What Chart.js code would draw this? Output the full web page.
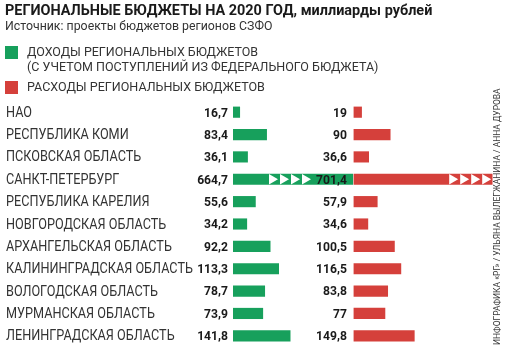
<!DOCTYPE html>
<html>
<head>
<meta charset="utf-8">
<script src="https://cdn.jsdelivr.net/npm/chart.js@4.4.0/dist/chart.umd.min.js"></script>
<style>
html, body { margin: 0; padding: 0; background: #fff; }
#wrap { position: relative; width: 507px; height: 350px; overflow: hidden; font-family: Roboto, sans-serif; color: #2b2b2b; }
canvas { position: absolute; left: 0; top: 0; }
.t { position: absolute; white-space: nowrap; line-height: 20px; height: 20px; transform-origin: 0 50%; }
.sq { position: absolute; width: 13px; height: 13px; }
</style>
</head>
<body>
<div id="wrap">
  <canvas id="chart" width="507" height="350"></canvas>
  <div class="t" data-w="427" style="left:5px;top:0px;font-size:15px;font-weight:bold;color:#1a1a1a">РЕГИОНАЛЬНЫЕ БЮДЖЕТЫ НА 2020 ГОД, миллиарды рублей</div>
  <div class="t" data-w="267" style="left:5px;top:16px;font-size:12px;color:#333">Источник: проекты бюджетов регионов СЗФО</div>
  <div class="sq" style="left:5px;top:46px;background:#17a05c"></div>
  <div class="t" data-w="231" style="left:27px;top:42px;font-size:13px;color:#333">ДОХОДЫ РЕГИОНАЛЬНЫХ БЮДЖЕТОВ</div>
  <div class="t" data-w="351" style="left:27px;top:57px;font-size:13px;color:#333">(С УЧЕТОМ ПОСТУПЛЕНИЙ ИЗ ФЕДЕРАЛЬНОГО БЮДЖЕТА)</div>
  <div class="sq" style="left:5px;top:81px;background:#d5403b"></div>
  <div class="t" data-w="238" style="left:27px;top:77px;font-size:13px;color:#333">РАСХОДЫ РЕГИОНАЛЬНЫХ БЮДЖЕТОВ</div>
  <div class="t" id="credit" data-w="257" style="left:497px;top:335px;font-size:9px;color:#333">ИНФОГРАФИКА «РГ» / УЛЬЯНА ВЫЛЕГЖАНИНА / АННА ДУРОВА</div>
</div>
<script>
const REGIONS = ["НАО", "РЕСПУБЛИКА КОМИ", "ПСКОВСКАЯ ОБЛАСТЬ", "САНКТ-ПЕТЕРБУРГ", "РЕСПУБЛИКА КАРЕЛИЯ", "НОВГОРОДСКАЯ ОБЛАСТЬ", "АРХАНГЕЛЬСКАЯ ОБЛАСТЬ", "КАЛИНИНГРАДСКАЯ ОБЛАСТЬ", "ВОЛОГОДСКАЯ ОБЛАСТЬ", "МУРМАНСКАЯ ОБЛАСТЬ", "ЛЕНИНГРАДСКАЯ ОБЛАСТЬ"];
const INCOME = [16.7, 83.4, 36.1, 664.7, 55.6, 34.2, 92.2, 113.3, 78.7, 73.9, 141.8];
const SPENDING = [19, 90, 36.6, 701.4, 57.9, 34.6, 100.5, 116.5, 83.8, 77, 149.8];

// the spending column starts at 300 on the shared axis, long bars are cut off
const SPENDING_START = 300;
const INCOME_CAP = 297;
const SPENDING_CAP = 343;
const GREEN = "#17a05c";
const RED = "#d5403b";

// fit html texts to the widths measured on the picture
document.querySelectorAll(".t").forEach(el => {
  const k = +el.dataset.w / el.scrollWidth;
  if (el.id === "credit") el.style.transform = "rotate(-90deg) scaleX(" + k + ")";
  else el.style.transform = "scaleX(" + k + ")";
});

const fmt = v => String(v).replace(".", ",");

// draw text squeezed horizontally, like the condensed face of the original
function narrowText(ctx, text, x, y, k, align) {
  ctx.save();
  ctx.translate(x, y);
  ctx.scale(k, 1);
  ctx.textAlign = align;
  ctx.fillText(text, 0, 0);
  ctx.restore();
}

const barLabels = {
  id: "barLabels",
  afterDatasetsDraw(chart) {
    const ctx = chart.ctx;
    const yScale = chart.scales.y;
    ctx.save();
    ctx.textBaseline = "middle";

    // region names, left aligned
    ctx.fillStyle = "#333";
    ctx.font = "14px Roboto";
    const k = 187 / ctx.measureText("КАЛИНИНГРАДСКАЯ ОБЛАСТЬ").width;
    REGIONS.forEach((name, i) => {
      narrowText(ctx, name, 6, yScale.getPixelForValue(i) + 1, k, "left");
    });

    chart.data.datasets.forEach((ds, di) => {
      const meta = chart.getDatasetMeta(di);
      meta.data.forEach((bar, i) => {
        const v = ds.raw[i];
        const top = bar.y - bar.height / 2;
        const bottom = bar.y + bar.height / 2;
        if (v > ds.cap) {
          // white arrows show that the bar is cut
          const start = di === 0 ? bar.base + 35 : bar.x - 44;
          ctx.fillStyle = "#fff";
          for (let n = 0; n < 4; n++) {
            const x0 = start + n * 11;
            ctx.beginPath();
            ctx.moveTo(x0 + 1, top);
            ctx.lineTo(x0 + 10, bar.y);
            ctx.lineTo(x0 + 1, bottom);
            ctx.closePath();
            ctx.fill();
          }
        }
        ctx.fillStyle = "#1a1a1a";
        ctx.font = "bold 13.5px Roboto";
        narrowText(ctx, fmt(v), bar.base - (di === 0 ? 5 : 7), bar.y + 1, 0.9, "right");
      });
    });
    ctx.restore();
  }
};

new Chart(document.getElementById("chart"), {
  type: "bar",
  data: {
    labels: REGIONS,
    datasets: [
      {
        label: "Доходы",
        raw: INCOME,
        cap: INCOME_CAP,
        data: INCOME.map(v => [0, Math.min(v, INCOME_CAP)]),
        backgroundColor: GREEN,
        grouped: false,
        barThickness: 10.5
      },
      {
        label: "Расходы",
        raw: SPENDING,
        cap: SPENDING_CAP,
        data: SPENDING.map(v => [SPENDING_START, SPENDING_START + Math.min(v, SPENDING_CAP)]),
        backgroundColor: RED,
        grouped: false,
        barThickness: 10.5
      }
    ]
  },
  options: {
    indexAxis: "y",
    responsive: false,
    devicePixelRatio: 1,
    animation: false,
    layout: { padding: { top: 101, bottom: 3, left: 5, right: 12 } },
    plugins: { legend: { display: false }, tooltip: { enabled: false } },
    scales: {
      x: { type: "linear", min: 0, max: 650, display: false },
      y: {
        grid: { display: false },
        border: { display: false },
        ticks: { display: false },
        afterFit: s => { s.width = 228; }
      }
    }
  },
  plugins: [barLabels]
});
</script>
</body>
</html>
